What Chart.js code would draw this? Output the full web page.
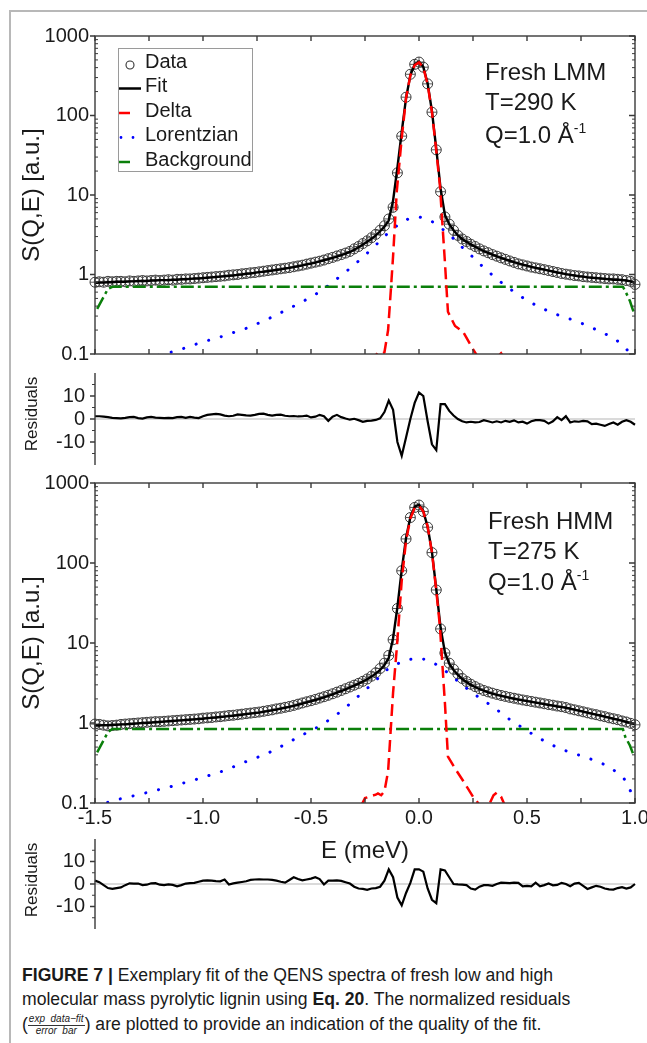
<!DOCTYPE html>
<html><head><meta charset="utf-8">
<script src="https://cdn.jsdelivr.net/npm/chart.js@4.4.1/dist/chart.umd.min.js"></script>
<style>
html,body{margin:0;padding:0;background:#fff;}
#page{position:relative;width:647px;height:1043px;overflow:hidden;background:#fff;font-family:"Liberation Sans",Arial,sans-serif;color:#1a1a1a;}
canvas{position:absolute;left:0;}
.t{position:absolute;white-space:nowrap;line-height:1;}
.rot{transform:translate(-50%,-50%) rotate(-90deg);}
.ann{font-size:24px;}
.ann sup{font-size:14px;vertical-align:0;position:relative;top:-10px;}
.cap{position:absolute;left:22px;white-space:nowrap;font-size:17.6px;line-height:1;color:#1a1a1a;}
.frac{display:inline-block;vertical-align:middle;text-align:center;font-style:italic;font-size:10px;line-height:1.05;}
.frac .n{display:block;border-bottom:0.8px solid #333;padding:0 1px;}
.frac .d{display:block;padding:0 1px;}
</style></head><body>
<div id="page">
<div style="position:absolute;left:9px;top:10px;width:638px;height:2px;background:#b8b8b8"></div>
<div style="position:absolute;left:9px;top:10px;width:2px;height:1033px;background:#b8b8b8"></div>
<canvas id="cTop" width="647" height="370" style="top:0px"></canvas>
<canvas id="cResTop" width="647" height="115" style="top:360px"></canvas>
<canvas id="cBot" width="647" height="360" style="top:470px"></canvas>
<canvas id="cResBot" width="647" height="120" style="top:825px"></canvas>

<div class="t rot" style="left:31px;top:195px;font-size:24px;">S(Q,E) [a.u.]</div>
<div class="t rot" style="left:31px;top:643px;font-size:24px;">S(Q,E) [a.u.]</div>
<div class="t rot" style="left:31px;top:414px;font-size:17px;">Residuals</div>
<div class="t rot" style="left:31px;top:880px;font-size:17px;">Residuals</div>
<div class="t" style="left:365px;top:838px;font-size:24px;transform:translateX(-50%);">E (meV)</div>

<div class="t ann" style="left:485px;top:60px;">Fresh LMM</div>
<div class="t ann" style="left:485px;top:90px;">T=290 K</div>
<div class="t ann" style="left:485px;top:123px;">Q=1.0 Å<sup>-1</sup></div>
<div class="t ann" style="left:488px;top:509px;">Fresh HMM</div>
<div class="t ann" style="left:488px;top:539px;">T=275 K</div>
<div class="t ann" style="left:488px;top:570px;">Q=1.0 Å<sup>-1</sup></div>

<div class="cap" style="top:967px;"><b>FIGURE 7 |</b> Exemplary fit of the QENS spectra of fresh low and high</div>
<div class="cap" style="top:991px;">molecular mass pyrolytic lignin using <b>Eq. 20</b>. The normalized residuals</div>
<div class="cap" style="top:1014px;">(<span class="frac"><span class="n">exp&nbsp; data−fit</span><span class="d">error&nbsp; bar</span></span>) are plotted to provide an indication of the quality of the fit.</div>
</div>
<script>
// ---------- data ----------
const energy = [-1.50,-1.48,-1.46,-1.44,-1.42,-1.40,-1.38,-1.36,-1.34,-1.32,
 -1.30,-1.28,-1.26,-1.24,-1.22,-1.20,-1.18,-1.16,-1.14,-1.12,
 -1.10,-1.08,-1.06,-1.04,-1.02,-1.00,-0.98,-0.96,-0.94,-0.92,
 -0.90,-0.88,-0.86,-0.84,-0.82,-0.80,-0.78,-0.76,-0.74,-0.72,
 -0.70,-0.68,-0.66,-0.64,-0.62,-0.60,-0.58,-0.56,-0.54,-0.52,
 -0.50,-0.48,-0.46,-0.44,-0.42,-0.40,-0.38,-0.36,-0.34,-0.32,
 -0.30,-0.28,-0.26,-0.24,-0.22,-0.20,-0.18,-0.16,-0.14,-0.12,
 -0.10,-0.08,-0.06,-0.04,-0.02,0.00,0.02,0.04,0.06,0.08,
 0.10,0.12,0.14,0.16,0.18,0.20,0.22,0.24,0.26,0.28,
 0.30,0.32,0.34,0.36,0.38,0.40,0.42,0.44,0.46,0.48,
 0.50,0.52,0.54,0.56,0.58,0.60,0.62,0.64,0.66,0.68,
 0.70,0.72,0.74,0.76,0.78,0.80,0.82,0.84,0.86,0.88,
 0.90,0.92,0.94,0.96,0.98,1.00];

const lmmData = [0.80,0.81,0.80,0.82,0.81,0.82,0.82,0.81,0.83,0.82,
 0.83,0.84,0.83,0.84,0.85,0.84,0.85,0.86,0.85,0.87,
 0.87,0.88,0.88,0.89,0.90,0.91,0.92,0.93,0.94,0.95,
 0.96,0.98,0.99,1.00,1.02,1.03,1.05,1.06,1.08,1.10,
 1.12,1.14,1.16,1.18,1.20,1.22,1.25,1.28,1.31,1.35,
 1.39,1.43,1.47,1.52,1.58,1.64,1.71,1.78,1.86,1.95,
 2.10,2.25,2.45,2.65,2.90,3.20,3.60,4.10,5.00,7.00,
 19,55,170,330,440,470,405,250,110,37,
 11,5.3,4.3,3.6,3.1,2.8,2.6,2.4,2.25,2.1,
 1.98,1.88,1.78,1.70,1.62,1.55,1.48,1.42,1.36,1.32,
 1.28,1.24,1.21,1.18,1.15,1.12,1.09,1.06,1.03,1.01,
 0.99,0.97,0.96,0.94,0.93,0.92,0.91,0.90,0.89,0.88,
 0.88,0.87,0.86,0.84,0.82,0.75];

const lmmFit = [0.78,0.79,0.79,0.80,0.80,0.81,0.81,0.81,0.82,0.82,
 0.83,0.83,0.83,0.84,0.84,0.85,0.85,0.85,0.86,0.86,
 0.87,0.87,0.88,0.89,0.89,0.90,0.91,0.92,0.93,0.94,
 0.95,0.96,0.97,0.99,1.00,1.02,1.03,1.05,1.07,1.08,
 1.10,1.12,1.14,1.16,1.19,1.21,1.24,1.27,1.30,1.34,
 1.37,1.41,1.46,1.51,1.56,1.62,1.68,1.75,1.83,1.92,
 2.05,2.20,2.38,2.58,2.82,3.10,3.50,4.00,4.80,8.50,
 22,62,165,320,440,478,410,252,113,38,
 12,5.6,4.3,3.6,3.1,2.8,2.58,2.39,2.23,2.09,
 1.97,1.87,1.78,1.69,1.62,1.55,1.49,1.43,1.38,1.33,
 1.29,1.25,1.21,1.18,1.15,1.12,1.09,1.06,1.04,1.01,
 0.99,0.97,0.95,0.94,0.92,0.91,0.90,0.89,0.88,0.87,
 0.86,0.86,0.85,0.84,0.82,0.78];

const lmmResid = [1.2,1.2,1.0,0.8,0.5,0.4,0.3,0.5,0.8,0.9,
 0.4,0.2,0.7,0.9,0.6,0.5,0.4,0.5,0.4,0.8,
 0.9,0.5,0.9,0.6,0.4,1.2,1.8,2.0,2.2,2.0,
 1.5,1.2,1.4,2.0,1.8,1.6,1.5,1.8,2.2,2.3,
 1.8,1.5,1.8,1.9,1.4,1.2,1.3,1.1,1.2,1.5,
 0.7,1.0,1.8,1.2,-0.8,1.0,1.8,0.8,0.2,-0.3,
 0.1,-0.5,-1.2,-0.8,-0.7,-0.4,0.3,3.0,8.0,4.0,
 -10.0,-16.0,-8.0,0.0,7.0,11.5,10.0,-1.0,-11.0,-13.5,
 6.5,6.5,3.5,1.5,0.0,-1.0,-1.5,-1.2,-1.5,-1.3,
 -0.5,-1.0,-1.5,-1.0,-1.5,-0.8,-1.2,-0.6,-1.5,-1.2,
 -2.0,-1.0,-0.5,-0.5,-0.8,-2.0,-1.0,0.8,-0.5,1.2,
 -1.5,-1.0,-1.2,-0.8,-1.0,-2.2,-2.0,-2.5,-3.0,-2.2,
 -1.5,-2.5,-1.2,-0.5,-1.2,-2.5];

const hmmData = [0.97,0.96,0.94,0.92,0.93,0.94,0.96,0.97,0.98,0.99,
 1.00,1.01,1.02,1.03,1.04,1.04,1.05,1.06,1.07,1.08,
 1.09,1.10,1.11,1.12,1.13,1.15,1.16,1.17,1.19,1.20,
 1.22,1.24,1.25,1.27,1.29,1.31,1.33,1.35,1.37,1.40,
 1.43,1.46,1.50,1.53,1.57,1.61,1.66,1.72,1.78,1.84,
 1.90,1.97,2.05,2.13,2.22,2.32,2.43,2.55,2.68,2.82,
 2.97,3.13,3.32,3.55,3.85,4.25,4.80,5.60,7.00,11,
 27,80,200,370,495,530,440,280,135,46,
 15,7.5,5.6,4.7,4.1,3.6,3.3,3.05,2.85,2.68,
 2.55,2.45,2.36,2.28,2.21,2.15,2.09,2.04,1.99,1.94,
 1.90,1.86,1.82,1.78,1.74,1.70,1.67,1.63,1.60,1.56,
 1.50,1.46,1.42,1.38,1.34,1.30,1.27,1.23,1.20,1.16,
 1.13,1.10,1.06,1.03,0.99,0.95];

const hmmFit = [0.93,0.93,0.94,0.94,0.95,0.95,0.96,0.96,0.97,0.98,
 0.99,1.00,1.00,1.01,1.02,1.03,1.04,1.05,1.06,1.07,
 1.08,1.09,1.10,1.11,1.12,1.13,1.15,1.16,1.17,1.19,
 1.20,1.22,1.23,1.25,1.27,1.29,1.31,1.33,1.35,1.38,
 1.41,1.44,1.47,1.51,1.55,1.59,1.64,1.69,1.75,1.81,
 1.87,1.94,2.01,2.09,2.18,2.28,2.39,2.51,2.64,2.78,
 2.93,3.10,3.30,3.52,3.80,4.15,4.60,5.30,6.50,11.5,
 28,82,205,375,505,535,445,282,138,47,
 15.5,7.6,5.5,4.6,4.0,3.55,3.25,3.0,2.82,2.66,
 2.53,2.42,2.33,2.25,2.18,2.12,2.06,2.01,1.96,1.92,
 1.88,1.84,1.80,1.76,1.72,1.68,1.65,1.61,1.58,1.55,
 1.51,1.47,1.43,1.39,1.35,1.31,1.27,1.24,1.20,1.17,
 1.13,1.10,1.07,1.03,1.00,0.97];

const hmmResid = [1.5,0.8,-0.5,-1.8,-2.2,-1.8,-1.5,-0.5,0.3,0.2,
 0.2,-0.5,-0.3,0.3,0.4,-0.3,-0.5,-0.2,-0.4,-1.0,
 -0.5,0.2,0.4,0.5,1.0,1.5,1.6,1.5,1.3,1.2,
 2.0,-0.2,0.3,0.6,0.9,1.2,1.8,2.0,2.1,2.0,
 2.0,1.8,1.5,1.0,0.6,1.8,3.0,2.2,1.6,2.0,
 2.4,3.0,2.2,-0.2,1.5,1.5,1.6,1.4,0.8,0.2,
 -1.2,-2.0,-2.2,-2.6,-2.0,-1.8,-1.2,1.5,6.5,3.0,
 -6.0,-9.5,-4.0,0.5,6.5,6.5,5.5,-2.0,-7.0,-8.5,
 6.5,6.0,3.0,0.0,-0.2,-0.3,-0.5,-2.0,-2.5,-1.2,
 -0.5,-0.5,-0.8,0.0,0.6,0.5,0.4,0.6,0.5,-1.0,
 -0.8,-1.0,0.6,-1.0,-0.5,0.2,-0.6,-0.4,0.5,0.0,
 -1.0,0.2,0.5,-0.8,-2.2,-1.5,-0.8,-1.2,-2.0,-2.4,
 -2.5,-1.8,-1.4,-2.0,-1.5,0.0];

const lorE = [-1.50,-1.45,-1.40,-1.35,-1.30,-1.25,-1.20,-1.15,-1.10,-1.05,
 -1.00,-0.95,-0.90,-0.85,-0.80,-0.75,-0.70,-0.65,-0.60,-0.55,
 -0.50,-0.45,-0.40,-0.35,-0.30,-0.25,-0.20,-0.15,-0.10,-0.05,
 0.00,0.05,0.10,0.15,0.20,0.25,0.30,0.35,0.40,0.45,
 0.50,0.55,0.60,0.65,0.70,0.75,0.80,0.85,0.90,0.95,1.00];
const lmmLor = [0.060,0.065,0.070,0.077,0.083,0.090,0.097,0.105,0.115,0.128,
 0.142,0.155,0.170,0.190,0.210,0.240,0.275,0.320,0.375,0.440,
 0.52,0.63,0.80,1.02,1.32,1.75,2.35,3.20,4.15,5.00,
 5.30,4.85,3.90,3.00,2.20,1.65,1.22,0.93,0.72,0.58,
 0.47,0.40,0.345,0.305,0.275,0.245,0.215,0.185,0.160,0.125,0.085];
const hmmLor = [0.092,0.100,0.110,0.118,0.127,0.137,0.148,0.160,0.175,0.190,
 0.210,0.230,0.255,0.290,0.330,0.370,0.420,0.490,0.580,0.690,
 0.80,0.95,1.17,1.47,1.95,2.55,3.40,4.60,5.50,6.20,
 6.50,6.00,5.00,3.90,3.00,2.35,1.90,1.55,1.20,0.98,
 0.80,0.66,0.56,0.48,0.43,0.39,0.35,0.31,0.26,0.20,0.11];

const bgE = [-1.49,-1.44,-1.42,0.944,0.955,0.977,0.99,1.00];
const lmmBg = [0.37,0.66,0.70,0.70,0.62,0.46,0.36,0.32];
const hmmBg = [0.43,0.77,0.84,0.84,0.67,0.52,0.42,0.38];

const deltaE = [-0.27,-0.25,-0.21,-0.20,-0.19,-0.175,-0.16,-0.143,-0.13,-0.12,
 -0.103,-0.08,-0.06,-0.04,-0.02,0.00,0.02,0.04,0.06,0.08,
 0.097,0.108,0.12,0.134,0.167,0.204,0.25,0.28,0.32,0.345,0.36,0.38,0.40];
const lmmDelta = [0.05,0.06,0.085,0.097,0.103,0.10,0.105,0.20,0.66,1.7,
 11,52,165,320,430,465,400,245,110,36,
 13,4.5,1.43,0.34,0.225,0.19,0.115,0.085,0.07,0.08,0.09,0.102,0.085];
const hmmDelta = [0.09,0.115,0.125,0.127,0.132,0.125,0.14,0.25,0.9,2.4,
 8.5,60,190,360,490,520,440,285,135,45,
 16,5.5,1.78,0.38,0.27,0.19,0.12,0.095,0.09,0.125,0.135,0.12,0.09];

const seriesNames = ['Data','Fit','Delta','Lorentzian','Background'];
const seriesColors = ['#333333','#000000','#ff0000','#0000ff','#0a7f0a'];

const xTickValues = [-1.5,-1.0,-0.5,0.0,0.5,1.0];
const xTickLabels = ['-1.5','-1.0','-0.5','0.0','0.5','1.0'];
const xMinorTicks = [-1.5,-1.25,-1.0,-0.75,-0.5,-0.25,0.0,0.25,0.5,0.75,1.0];
const yTickValues = [0.1,1,10,100,1000];
const yTickLabels = ['0.1','1','10','100','1000'];
const yMinorTicks = [0.2,0.3,0.4,0.5,0.6,0.7,0.8,0.9,2,3,4,5,6,7,8,9,20,30,40,50,60,70,80,90,200,300,400,500,600,700,800,900];
const rTickValues = [-10,0,10];
const rTickLabels = ['-10','0','10'];
const rMinorTicks = [-15,-5,5,15];

// ---------- helpers ----------
Chart.defaults.font.family = '"Liberation Sans", Arial, sans-serif';
Chart.defaults.color = '#1a1a1a';
const pts = (xs, ys) => xs.map((x,i)=>({x:x, y:ys[i]}));
function noPad(s){ s.paddingTop = 0; s.paddingBottom = 0; s.paddingLeft = 0; s.paddingRight = 0; }

const axesPlugin = {
  id:'axesPlugin',
  beforeDatasetsDraw(chart, args, o){
    if(o.kind !== 'resid') return;
    const {ctx, chartArea:a, scales:{y}} = chart;
    const py = y.getPixelForValue(0);
    ctx.save(); ctx.strokeStyle='#b5b5b5'; ctx.lineWidth=1;
    ctx.beginPath(); ctx.moveTo(a.left,py); ctx.lineTo(a.right,py); ctx.stroke(); ctx.restore();
  },
  afterDraw(chart, args, o){
    const {ctx, chartArea:a, scales:{x,y}} = chart;
    ctx.save();
    ctx.strokeStyle = '#3a3a3a';
    if(o.kind === 'main'){
      ctx.lineWidth = 1.4;
      ctx.strokeRect(a.left, a.top, a.right-a.left, a.bottom-a.top);
      ctx.beginPath();
      xMinorTicks.forEach(v=>{const px=x.getPixelForValue(v);
        ctx.moveTo(px,a.bottom); ctx.lineTo(px,a.bottom-5);
        ctx.moveTo(px,a.top); ctx.lineTo(px,a.top+5);});
      yTickValues.forEach(v=>{const py=y.getPixelForValue(v);
        ctx.moveTo(a.left-5,py); ctx.lineTo(a.left,py);
        ctx.moveTo(a.right,py); ctx.lineTo(a.right-6,py);});
      ctx.stroke();
      ctx.lineWidth = 1; ctx.beginPath();
      yMinorTicks.forEach(v=>{const py=y.getPixelForValue(v);
        ctx.moveTo(a.left,py); ctx.lineTo(a.left+3,py);
        ctx.moveTo(a.right,py); ctx.lineTo(a.right-3,py);});
      ctx.stroke();
    } else {
      ctx.lineWidth = 1.4;
      ctx.beginPath(); ctx.moveTo(a.left,a.top); ctx.lineTo(a.left,a.bottom);
      rTickValues.forEach(v=>{const py=y.getPixelForValue(v); ctx.moveTo(a.left-5,py); ctx.lineTo(a.left,py);});
      ctx.stroke();
      ctx.lineWidth = 1; ctx.beginPath();
      rMinorTicks.forEach(v=>{const py=y.getPixelForValue(v); ctx.moveTo(a.left-3,py); ctx.lineTo(a.left,py);});
      ctx.stroke();
    }
    ctx.restore();
  }
};

const legendPlugin = {
  id:'legendPlugin',
  afterDraw(chart, args, o){
    if(!o.show) return;
    const {ctx, chartArea:a} = chart;
    const L = a.left + 23, T = a.top + 12, W = 134, H = 123;
    ctx.save();
    ctx.fillStyle='#fff'; ctx.fillRect(L,T,W,H);
    ctx.strokeStyle='#9a9a9a'; ctx.lineWidth=1; ctx.strokeRect(L+0.5,T+0.5,W,H);
    ctx.font = '20px "Liberation Sans", Arial, sans-serif';
    ctx.textBaseline = 'middle';
    seriesNames.forEach((name,i)=>{
      const cy = T + 14 + i*24.5;
      const sy = cy + 2;
      ctx.strokeStyle = seriesColors[i]; ctx.fillStyle = seriesColors[i];
      if(i===0){ ctx.lineWidth=1.1; ctx.beginPath(); ctx.arc(L+12, sy+1, 4, 0, Math.PI*2); ctx.stroke(); }
      else if(i===1){ ctx.lineWidth=2.5; ctx.beginPath(); ctx.moveTo(L+1,sy); ctx.lineTo(L+23,sy); ctx.stroke(); }
      else if(i===2 || i===4){ ctx.lineWidth=2.5; ctx.beginPath(); ctx.moveTo(L+1,sy); ctx.lineTo(L+12,sy); ctx.stroke(); }
      else { ctx.beginPath(); ctx.arc(L+3,sy,1.4,0,Math.PI*2); ctx.arc(L+15,sy,1.4,0,Math.PI*2); ctx.fill(); }
      ctx.fillStyle = '#1a1a1a';
      ctx.fillText(name, L+27, cy);
    });
    ctx.restore();
  }
};

function mainChart(id, d, padTop, padBottom, showX, showLegend){
  return new Chart(document.getElementById(id), {
    type:'line',
    data:{datasets:[
      {label:seriesNames[2], data:pts(deltaE,d.delta), borderColor:seriesColors[2], borderWidth:2.5, borderDash:[12,6], pointRadius:0, order:0},
      {label:seriesNames[4], data:pts(bgE,d.bg), borderColor:seriesColors[4], borderWidth:2.5, borderDash:[13,4,3,4], pointRadius:0, order:1},
      {label:seriesNames[3], data:pts(lorE,d.lor), borderColor:seriesColors[3], borderWidth:3, borderDash:[0.1,13], borderCapStyle:'round', pointRadius:0, order:2},
      {label:seriesNames[1], data:pts(energy,d.fit), borderColor:seriesColors[1], borderWidth:2.4, pointRadius:0, order:3},
      {label:'DataErr', data:pts(energy,d.data), showLine:false, pointStyle:'cross', pointRadius:5, borderColor:'#444', borderWidth:0.9, clip:false, order:4},
      {label:seriesNames[0], data:pts(energy,d.data), showLine:false, pointStyle:'circle', pointRadius:5, borderColor:'#3a3a3a', backgroundColor:'rgba(255,255,255,0)', borderWidth:1, clip:false, order:5}
    ]},
    options:{
      responsive:false, animation:false, events:[],
      layout:{padding:{left:0,right:12,top:padTop,bottom:padBottom}},
      plugins:{legend:{display:false}, tooltip:{enabled:false}, axesPlugin:{kind:'main'}, legendPlugin:{show:showLegend}},
      scales:{
        x:{type:'linear', min:-1.5, max:1.0,
          grid:{display:false, drawTicks:false}, border:{display:false},
          afterBuildTicks(s){ s.ticks = xTickValues.map(v=>({value:v})); },
          ticks:{display:showX, padding:3, font:{size:20}, color:'#1a1a1a', maxRotation:0, autoSkip:false, callback:(v,i)=>xTickLabels[i]},
          afterFit(s){ s.height = showX ? 27 : 0; noPad(s); }
        },
        y:{type:'logarithmic', min:0.1, max:1000,
          grid:{display:false, drawTicks:false}, border:{display:false},
          afterBuildTicks(s){ s.ticks = yTickValues.map(v=>({value:v})); },
          ticks:{padding:6, font:{size:20}, color:'#1a1a1a', autoSkip:false, callback:(v,i)=>yTickLabels[i]},
          afterFit(s){ s.width = 95; noPad(s); }
        }
      }
    },
    plugins:[axesPlugin, legendPlugin]
  });
}

function residChart(id, resid, padTop, padBottom){
  return new Chart(document.getElementById(id), {
    type:'line',
    data:{datasets:[
      {label:'Residuals', data:pts(energy,resid), borderColor:'#000', borderWidth:2.2, pointRadius:0, clip:false}
    ]},
    options:{
      responsive:false, animation:false, events:[],
      layout:{padding:{left:0,right:12,top:padTop,bottom:padBottom}},
      plugins:{legend:{display:false}, tooltip:{enabled:false}, axesPlugin:{kind:'resid'}, legendPlugin:{show:false}},
      scales:{
        x:{type:'linear', min:-1.5, max:1.0, grid:{display:false, drawTicks:false}, border:{display:false},
          ticks:{display:false}, afterFit(s){ s.height = 0; noPad(s); }},
        y:{type:'linear', min:-20, max:20, grid:{display:false, drawTicks:false}, border:{display:false},
          afterBuildTicks(s){ s.ticks = rTickValues.map(v=>({value:v})); },
          ticks:{padding:10, font:{size:20}, color:'#1a1a1a', autoSkip:false, callback:(v,i)=>rTickLabels[i]},
          afterFit(s){ s.width = 95; noPad(s); }}
      }
    },
    plugins:[axesPlugin]
  });
}

mainChart('cTop', {data:lmmData, fit:lmmFit, lor:lmmLor, bg:lmmBg, delta:lmmDelta}, 36, 16, false, true);
residChart('cResTop', lmmResid, 13, 10);
mainChart('cBot', {data:hmmData, fit:hmmFit, lor:hmmLor, bg:hmmBg, delta:hmmDelta}, 13, 0, true, false);
residChart('cResBot', hmmResid, 14, 16);
</script>
</body></html>
